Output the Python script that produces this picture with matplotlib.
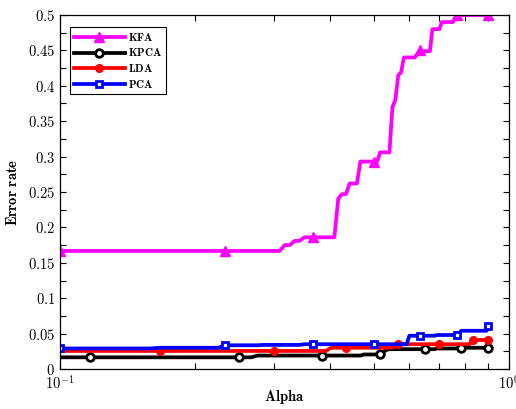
import numpy as np
import matplotlib
matplotlib.use("Agg")
import matplotlib.pyplot as plt
from matplotlib.ticker import FixedLocator, FuncFormatter, NullFormatter

plt.rcParams['mathtext.fontset'] = 'cm'

# alpha grid (0.1 .. 0.9, step 1/120)
alpha = 0.1 + np.arange(97) / 120.0

kfa = ([0.1667] * 26 + [0.175] * 2 + [0.181] * 2 + [0.186] * 8 + [0.241] + [0.247] * 2 +
       [0.262] * 3 + [0.293] * 6 + [0.306] * 4 + [0.370, 0.380, 0.415, 0.419] + [0.440] * 5 +
       [0.445, 0.450] + [0.449] * 4 + [0.480] * 4 + [0.490] * 6 + [0.495] + [0.500] * 17)
kpca = ([0.0165] * 21 + [0.019] * 24 + [0.0205] * 6 + [0.024, 0.027] + [0.028] * 18 +
        [0.029] * 12 + [0.030] * 14)
lda = ([0.0255] * 36 + [0.0295] + [0.030] * 18 + [0.033] + [0.035] * 31 + [0.038] + [0.041] * 9)
pca = ([0.029] * 8 + [0.030] * 8 + [0.0335] * 6 + [0.034] * 8 + [0.035] * 30 + [0.047] * 11 +
       [0.048] * 10 + [0.051] + [0.054] * 14 + [0.061])

series_names = ["KFA", "KPCA", "LDA", "PCA"]
y_major = [0, 0.05, 0.1, 0.15, 0.2, 0.25, 0.3, 0.35, 0.4, 0.45, 0.5]

fig = plt.figure(figsize=(5.16, 4.09), dpi=100)
ax = fig.add_axes([60 / 516, 40 / 409, 449 / 516, 354 / 409])

lw = 2.7
ax.plot(alpha, kfa, color='#ff00ff', lw=lw, marker='^', ms=6.5, mfc='#ff00ff', mec='#ff00ff',
        markevery=[0, 16, 32, 48, 64, 80, 96], label=r'$\mathbf{KFA}$')
ax.plot(alpha, kpca, color='black', lw=lw, marker='o', ms=5.5, mfc='white', mec='black', mew=2,
        markevery=[2, 18, 34, 50, 66, 82, 96], label=r'$\mathbf{KPCA}$')
ax.plot(alpha, lda, color='red', lw=lw, marker='o', ms=5.5, mfc='red', mec='red',
        markevery=[8, 24, 40, 56, 72, 88, 96], label=r'$\mathbf{LDA}$')
ax.plot(alpha, pca, color='blue', lw=lw, marker='s', ms=5, mfc='white', mec='blue', mew=2,
        markevery=[0, 16, 32, 48, 64, 80, 96], label=r'$\mathbf{PCA}$')

ax.set_xscale('log')
ax.set_xlim(0.1, 1.0)
ax.set_ylim(0, 0.5)

ax.yaxis.set_major_locator(FixedLocator(y_major))
ax.yaxis.set_minor_locator(FixedLocator(np.arange(0.025, 0.5, 0.05)))

def yfmt(v, pos):
    s = ('%.2f' % v).rstrip('0').rstrip('.')
    return r'$\mathbf{%s}$' % s

ax.yaxis.set_major_formatter(FuncFormatter(yfmt))
ax.xaxis.set_major_locator(FixedLocator([0.1, 1.0]))
ax.xaxis.set_major_formatter(FuncFormatter(
    lambda v, p: r'$\mathbf{10^{-1}}$' if v < 0.5 else r'$\mathbf{10^{0}}$'))
ax.xaxis.set_minor_locator(FixedLocator([0.2, 0.3, 0.4, 0.5, 0.6, 0.7, 0.8, 0.9]))
ax.xaxis.set_minor_formatter(NullFormatter())

ax.tick_params(which='both', direction='in', top=True, right=True, labelsize=10.5, width=0.8)
ax.tick_params(which='major', length=4)
ax.tick_params(which='minor', length=4)
ax.tick_params(axis='x', pad=4)
for s in ax.spines.values():
    s.set_linewidth(0.9)

ax.set_xlabel(r'$\mathbf{Alpha}$', fontsize=10.5, labelpad=-3)
ax.set_ylabel(r'$\mathbf{Error\ rate}$', fontsize=10.5, labelpad=6)

leg = ax.legend(loc='upper left', bbox_to_anchor=(0.022, 0.967), fontsize=8, handlelength=4.6,
                handletextpad=0.3, labelspacing=0.35, borderpad=0.35, fancybox=False,
                framealpha=1, edgecolor='black', borderaxespad=0)
leg.get_frame().set_linewidth(0.8)

fig.savefig('out.png', dpi=100)
